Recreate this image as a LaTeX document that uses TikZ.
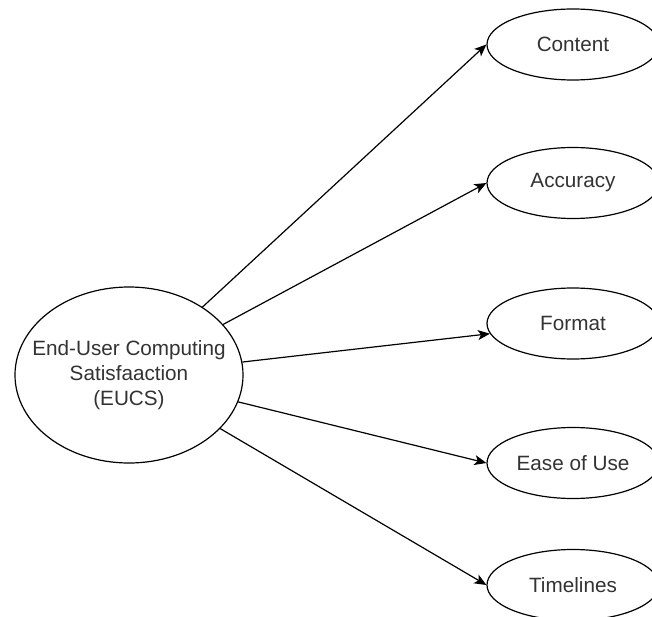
\documentclass[tikz,border=0pt]{standalone}
\usepackage{fontspec}
\setmainfont{Liberation Sans}
\usetikzlibrary{shapes.geometric,arrows.meta}
\begin{document}
\begin{tikzpicture}[x=1pt,y=-1pt,
  oval/.style={draw=black,line width=1.2pt,ellipse,minimum width=172pt,minimum height=71pt,inner sep=0pt,
    font=\fontsize{20.7}{25}\selectfont,text=black!80},
  bigoval/.style={draw=black,line width=1.2pt,ellipse,minimum width=228pt,minimum height=176pt,inner xsep=-20pt,inner ysep=0pt,
    font=\fontsize{20.7}{25}\selectfont,text=black!80,align=center},
  link/.style={draw=black,line width=1.2pt,-{Stealth[length=12pt,width=10pt,inset=3pt]}}]
\clip (0,0) rectangle (652,617);
\fill[white] (0,0) rectangle (652,617);
\node[bigoval] (eucs) at (129,375) {End-User Computing\\Satisfaaction\\(EUCS)};
\node[oval] (content) at (573,44.5) {Content};
\node[oval] (accuracy) at (573,183) {Accuracy};
\node[oval] (format) at (573,323.5) {Format};
\node[oval] (ease) at (573,463) {Ease of Use};
\node[oval] (timelines) at (573,585) {Timelines};
\draw[link] (eucs) -- (content.west);
\draw[link] (eucs) -- (accuracy.west);
\draw[link] (eucs) -- (format.187);
\draw[link] (eucs) -- (ease.west);
\draw[link] (eucs) -- (timelines.west);
\end{tikzpicture}
\end{document}
